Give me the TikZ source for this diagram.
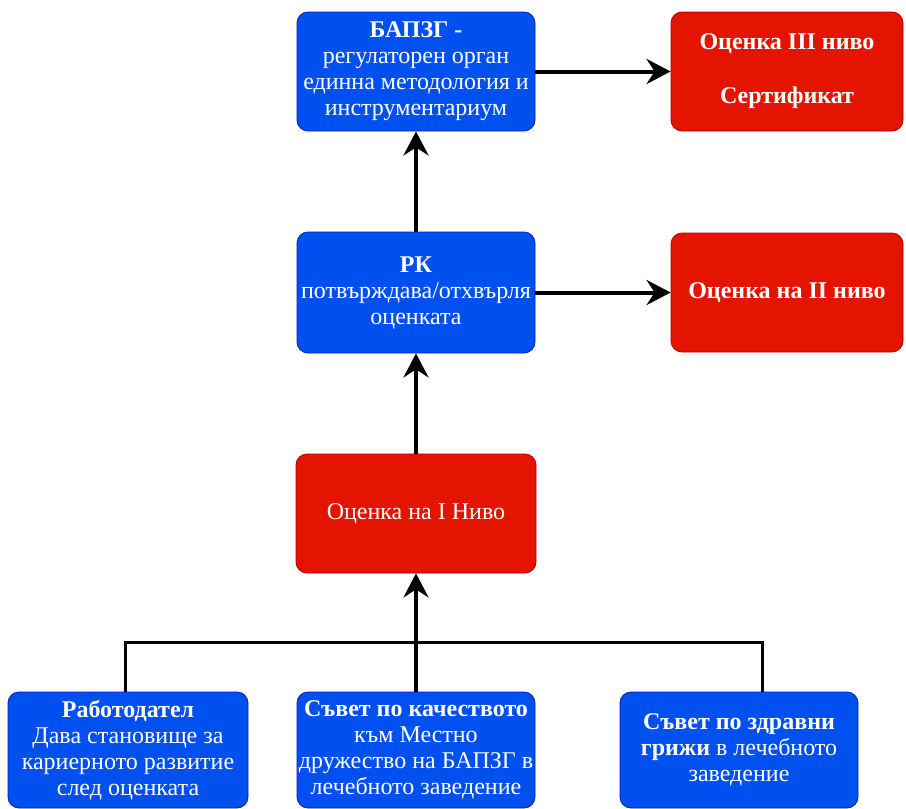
\documentclass[tikz,border=0pt]{standalone}
\usepackage{fontspec}
\setmainfont{Liberation Serif}
\usetikzlibrary{arrows.meta}
\definecolor{bfill}{HTML}{0050EF}
\definecolor{bdraw}{HTML}{001DBC}
\definecolor{rfill}{HTML}{E51400}
\definecolor{rdraw}{HTML}{B20000}
\tikzset{
  box/.style={rounded corners=11pt, align=center, text=white, inner xsep=0pt, inner ysep=2pt,
    font=\fontsize{24}{26}\selectfont, line width=0.8pt},
  bluebox/.style={box, fill=bfill, draw=bdraw},
  redbox/.style={box, fill=rfill, draw=rdraw},
  arr/.style={line width=4pt, -{Stealth[length=24pt,width=25pt,inset=8pt]}},
  bus/.style={line width=3pt}
}
\begin{document}
\begin{tikzpicture}[x=1pt,y=-1pt]
\useasboundingbox (0,0) rectangle (906,809);
\node[bluebox, minimum width=238pt, minimum height=119pt] (A) at (416,71.5)
  {\textbf{БАПЗГ -}\\регулаторен орган\\единна методология и\\инструментариум};
\node[redbox, minimum width=232pt, minimum height=119pt] (B) at (787,71.5)
  {\textbf{Оценка III ниво}\\[28pt]\textbf{Сертификат}};
\node[bluebox, minimum width=238pt, minimum height=121pt] (C) at (416,292.5)
  {\textbf{РК}\\потвърждава/отхвърля\\оценката};
\node[redbox, minimum width=232pt, minimum height=119pt] (D) at (787,292.5)
  {\textbf{Оценка на II ниво}};
\node[redbox, minimum width=240pt, minimum height=119pt] (E) at (416,513.5)
  {Оценка на I Ниво};
\node[bluebox, minimum width=240pt, minimum height=116pt] (F1) at (128,750)
  {\textbf{Работодател}\\Дава становище за\\кариерното развитие\\след оценката};
\node[bluebox, minimum width=238pt, minimum height=116pt] (F2) at (416,750)
  {\textbf{Съвет по качеството}\\към Местно\\дружество на БАПЗГ в\\лечебното заведение};
\node[bluebox, minimum width=238pt, minimum height=116pt] (F3) at (739,750)
  {\textbf{Съвет по здравни}\\\textbf{грижи} в лечебното\\заведение};
\coordinate (busL) at (125,642);
\coordinate (busR) at (762,642);
\coordinate (f1top) at (125,692);
\coordinate (f3top) at (762,692);
\draw[bus] (f1top) -- (busL) -- (busR) -- (f3top);
\draw[arr] (F2.north) -- (E.south);
\draw[arr] (E.north) -- (C.south);
\draw[arr] (C.north) -- (A.south);
\draw[arr] (A.east) -- (B.west);
\draw[arr] (C.east) -- (D.west);
\end{tikzpicture}
\end{document}
